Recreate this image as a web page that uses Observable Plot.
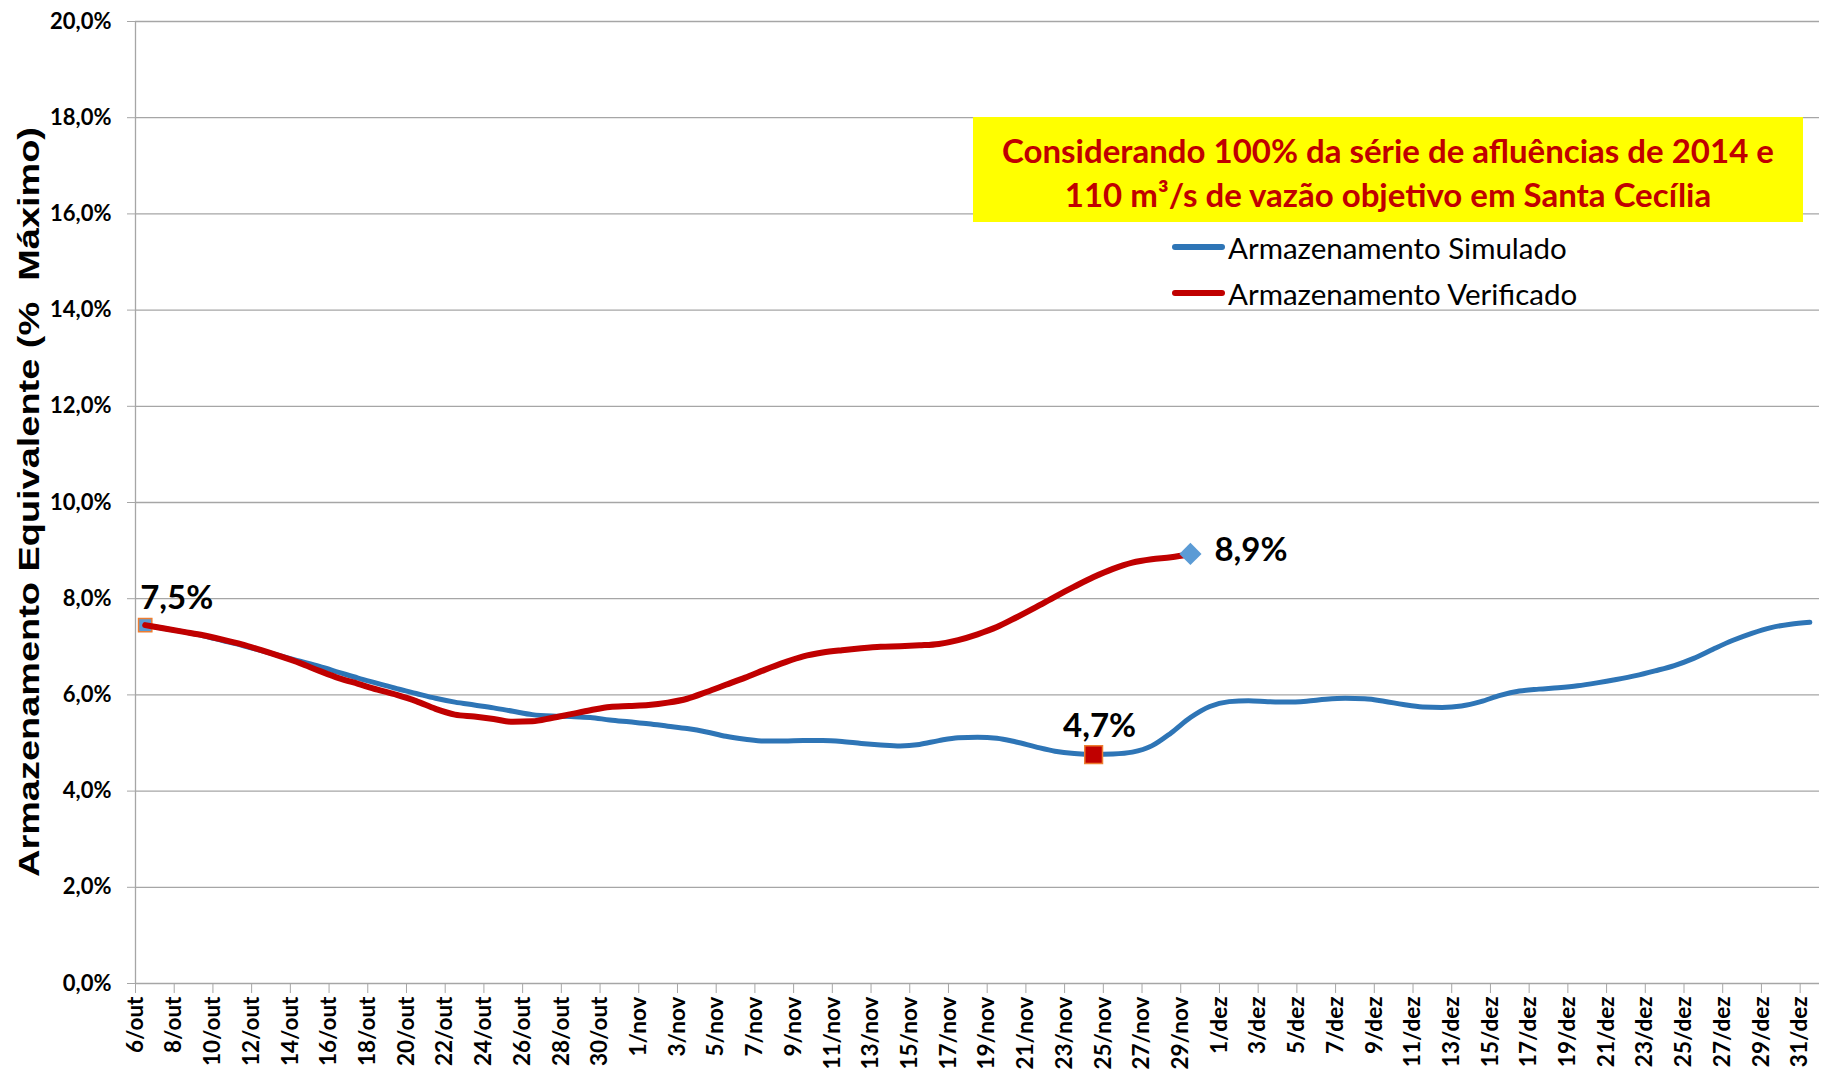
<!DOCTYPE html>
<html>
<head>
<meta charset="utf-8">
<script src="https://cdn.jsdelivr.net/npm/d3@7"></script>
<script src="https://cdn.jsdelivr.net/npm/@observablehq/plot@0.6"></script>
<style>
  html, body { margin: 0; padding: 0; background: #fff; }
  #wrap { position: relative; width: 1822px; height: 1072px; overflow: hidden; }
  #caixa { position: absolute; left: 973px; top: 117px; width: 830px; height: 105px;
    background: #ffff00; color: #c00000; font: bold 33px Lato, sans-serif; text-align: center;
    line-height: 44px; padding-top: 11px; box-sizing: border-box; white-space: nowrap; }
  .leg { position: absolute; left: 1172px; font: 29.5px Lato, sans-serif; color: #000; white-space: nowrap;
    display: flex; align-items: center; height: 40px; }
  .leg span.sw { display: inline-block; width: 53px; height: 6px; border-radius: 3px; margin-right: 3px; }
</style>
</head>
<body>
<div id="wrap"></div>
<script>
// Data (daily, 6/out/2014 to 31/dez/2014)
const inicioSerie = "2014-10-06";
const simulado = [
  7.45, 7.38, 7.31, 7.23, 7.13, 7.03, 6.92, 6.81, 6.70, 6.59,
  6.47, 6.35, 6.24, 6.13, 6.03, 5.93, 5.85, 5.79, 5.73, 5.66,
  5.59, 5.56, 5.55, 5.53, 5.48, 5.44, 5.40, 5.35, 5.30, 5.23,
  5.14, 5.08, 5.04, 5.04, 5.05, 5.05, 5.03, 4.99, 4.96, 4.94,
  4.97, 5.05, 5.11, 5.12, 5.10, 5.02, 4.92, 4.83, 4.78, 4.76,
  4.77, 4.81, 4.94, 5.21, 5.53, 5.76, 5.86, 5.88, 5.86, 5.85,
  5.87, 5.91, 5.93, 5.92, 5.87, 5.80, 5.75, 5.74, 5.77, 5.86,
  5.99, 6.08, 6.12, 6.15, 6.19, 6.25, 6.32, 6.40, 6.50, 6.61,
  6.76, 6.95, 7.13, 7.28, 7.40, 7.47, 7.51
];
const verificado = [
  7.45, 7.38, 7.31, 7.24, 7.15, 7.05, 6.93, 6.80, 6.66, 6.50,
  6.35, 6.23, 6.11, 6.00, 5.87, 5.71, 5.59, 5.55, 5.50, 5.44,
  5.45, 5.52, 5.60, 5.68, 5.75, 5.77, 5.79, 5.84, 5.92, 6.06,
  6.21, 6.36, 6.52, 6.67, 6.80, 6.88, 6.93, 6.97, 7.00, 7.01,
  7.03, 7.06, 7.14, 7.26, 7.41, 7.61, 7.82, 8.04, 8.25, 8.45,
  8.62, 8.75, 8.82, 8.86, 8.93
];
const rotulosX = [
  "6/out","8/out","10/out","12/out","14/out","16/out","18/out","20/out","22/out","24/out","26/out","28/out","30/out",
  "1/nov","3/nov","5/nov","7/nov","9/nov","11/nov","13/nov","15/nov","17/nov","19/nov","21/nov","23/nov","25/nov","27/nov","29/nov",
  "1/dez","3/dez","5/dez","7/dez","9/dez","11/dez","13/dez","15/dez","17/dez","19/dez","21/dez","23/dez","25/dez","27/dez","29/dez","31/dez"
];
const ticksY = [0, 2, 4, 6, 8, 10, 12, 14, 16, 18, 20];
const destaqueDatas = ["2014-10-06", "2014-11-24", "2014-11-29"];
const destaqueValores = [7.45, 4.76, 8.93];
const destaqueRotulos = ["7,5%", "4,7%", "8,9%"];
const legendaSeries = ["Armazenamento Simulado", "Armazenamento Verificado"];
const coresSeries = ["#2e75b6", "#c00000"];

// Build tables
const inicio = new Date(inicioSerie + "T00:00Z");
const fim = d3.utcDay.offset(inicio, simulado.length);
const meioDia = (d) => d3.utcHour.offset(d, 12);
const tabSim = simulado.map((v, i) => ({data: meioDia(d3.utcDay.offset(inicio, i)), v}));
const tabVer = verificado.map((v, i) => ({data: meioDia(d3.utcDay.offset(inicio, i)), v}));
const ticksX = rotulosX.map((_, i) => d3.utcDay.offset(inicio, 2 * i));
const mapaRot = new Map(ticksX.map((d, i) => [+d, rotulosX[i]]));
const dest = destaqueDatas.map((d, i) => ({data: meioDia(new Date(d + "T00:00Z")), v: destaqueValores[i], r: destaqueRotulos[i]}));
const fmtY = (d) => d.toFixed(1).replace(".", ",") + "%";

const grid = "#a6a6a6";
const chart = Plot.plot({
  width: 1822, height: 1072,
  marginLeft: 135, marginRight: 3, marginTop: 21, marginBottom: 89,
  style: {fontFamily: "Lato, sans-serif", fontWeight: "bold", fontSize: "22px", color: "#000", background: "#fff", overflow: "visible"},
  x: {type: "utc", domain: [inicio, fim], axis: null},
  y: {domain: [0, 20], axis: null},
  marks: [
    Plot.ruleY(ticksY, {stroke: grid, strokeWidth: 1.3}),
    Plot.ruleX([inicio], {stroke: grid, strokeWidth: 1.3}),
    Plot.axisY({ticks: ticksY, tickFormat: fmtY, tickSize: 8, tickPadding: 16, stroke: grid, fill: "#000", label: null, fontSize: 22}),
    Plot.axisX({ticks: ticksX, tickFormat: (d) => mapaRot.get(+d), tickRotate: -90, tickSize: 10, tickPadding: 3, stroke: grid, fill: "#000", label: null, fontSize: 22.5}),
    Plot.line(tabSim, {x: "data", y: "v", stroke: coresSeries[0], strokeWidth: 5, curve: "monotone-x"}),
    Plot.dot([dest[0]], {x: "data", y: "v", symbol: "square", r: 7.5, fill: "#5b9bd5", stroke: "#ed7d31", strokeWidth: 1.5}),
    Plot.line(tabVer, {x: "data", y: "v", stroke: coresSeries[1], strokeWidth: 6, curve: "monotone-x"}),
    Plot.dot([dest[1]], {x: "data", y: "v", symbol: "square", r: 10, fill: "#c00000", stroke: "#ed7d31", strokeWidth: 1.5}),
    Plot.dot([dest[2]], {x: "data", y: "v", symbol: "diamond2", r: 10, fill: "#5b9bd5"}),
    Plot.text([dest[0]], {x: "data", y: "v", text: "r", textAnchor: "start", dx: -5, dy: -27, fontSize: 33}),
    Plot.text([dest[1]], {x: "data", y: "v", text: "r", textAnchor: "middle", dx: 6, dy: -28, fontSize: 33}),
    Plot.text([dest[2]], {x: "data", y: "v", text: "r", textAnchor: "start", dx: 24, dy: -4, fontSize: 33})
  ]
});

// Y-axis title
d3.select(chart).append("text")
  .attr("transform", "translate(29,502) rotate(-90)")
  .attr("text-anchor", "middle")
  .attr("dominant-baseline", "central")
  .attr("font-family", "'Liberation Sans', Arial, sans-serif")
  .attr("font-weight", "bold")
  .attr("font-size", 29)
  .attr("textLength", 750)
  .attr("lengthAdjust", "spacingAndGlyphs")
  .style("white-space", "pre")
  .text("Armazenamento Equivalente (%  Máximo)");

const wrap = document.getElementById("wrap");
wrap.appendChild(chart);

const caixa = document.createElement("div");
caixa.id = "caixa";
caixa.innerHTML = "Considerando 100% da série de afluências de 2014 e<br>110 m³/s de vazão objetivo em Santa Cecília";
wrap.appendChild(caixa);

legendaSeries.forEach((nome, i) => {
  const el = document.createElement("div");
  el.className = "leg";
  el.style.top = (227 + 46 * i) + "px";
  el.innerHTML = `<span class="sw" style="background:${coresSeries[i]}"></span><span>${nome}</span>`;
  wrap.appendChild(el);
});
</script>
</body>
</html>
